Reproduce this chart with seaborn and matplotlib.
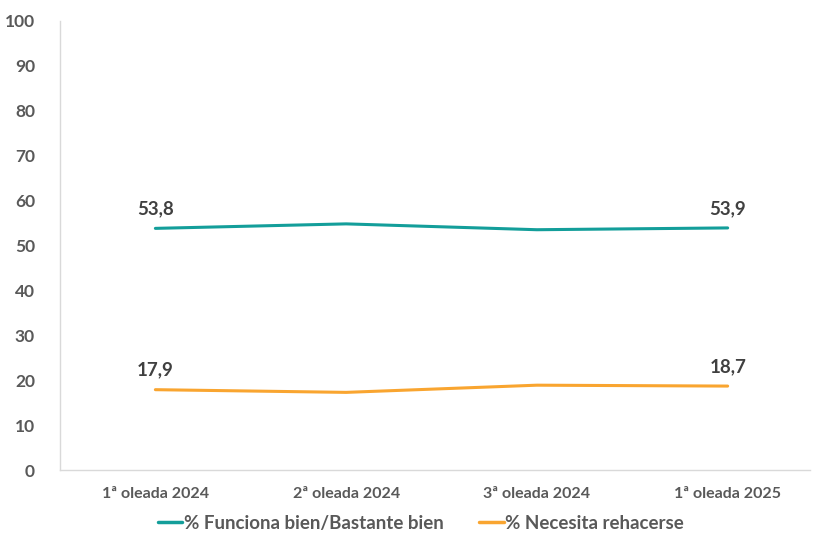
import numpy as np
import pandas as pd
import matplotlib.pyplot as plt
import seaborn as sns

# chart data
oleadas = ['1ª oleada 2024', '2ª oleada 2024', '3ª oleada 2024', '1ª oleada 2025']
funciona = [53.8, 54.8, 53.5, 53.9]
rehacerse = [17.9, 17.3, 18.9, 18.7]
series_names = ['% Funciona bien/Bastante bien', '% Necesita rehacerse']

df = pd.DataFrame({
    'x': list(range(len(oleadas))) * 2,
    'valor': funciona + rehacerse,
    'serie': [series_names[0]] * len(oleadas) + [series_names[1]] * len(oleadas),
})

sns.set_theme(style='white')
plt.rcParams['font.family'] = ['Lato', 'DejaVu Sans']

teal = '#139E9A'
orange = '#F9A530'
grey = '#595959'

fig = plt.figure(figsize=(8.14, 5.33), dpi=100)
ax = fig.add_axes([0.0737, 0.118, 0.921, 0.843])

sns.lineplot(data=df, x='x', y='valor', hue='serie', palette=[teal, orange],
             linewidth=2.2, ax=ax, legend=False)

# data labels on first and last points
for vals in (funciona, rehacerse):
    for i in (0, len(oleadas) - 1):
        ax.annotate(f'{vals[i]:.1f}'.replace('.', ','), (i, vals[i]),
                    xytext=(0, 8), textcoords='offset points', ha='center', va='bottom',
                    fontsize=13.5, fontweight='bold', color='#404040')

ax.set_ylim(0, 100)
ax.set_yticks(range(0, 101, 10))
ax.set_xlim(-0.5, 3.43)
ax.set_xticks(range(len(oleadas)))
ax.set_xticklabels(oleadas)
ax.set_xlabel('')
ax.set_ylabel('')
ax.tick_params(axis='both', length=0, colors=grey, labelsize=11.5)
ax.tick_params(axis='y', pad=18, labelsize=12.5)
ax.tick_params(axis='x', pad=12)
for lab in ax.get_xticklabels() + ax.get_yticklabels():
    lab.set_fontweight('bold')

for side in ('top', 'right'):
    ax.spines[side].set_visible(False)
for side in ('left', 'bottom'):
    ax.spines[side].set_color('#D9D9D9')
    ax.spines[side].set_linewidth(1)

handles = [plt.Line2D([], [], color=teal, lw=2.5), plt.Line2D([], [], color=orange, lw=2.5)]
fig.legend(handles, series_names, loc='center', bbox_to_anchor=(0.517, 0.018), ncol=2,
           frameon=False, handlelength=1.3, handletextpad=0.1, columnspacing=1.9,
           prop={'size': 13.5, 'weight': 'bold'}, labelcolor=grey)

fig.savefig('out.png', dpi=100)
